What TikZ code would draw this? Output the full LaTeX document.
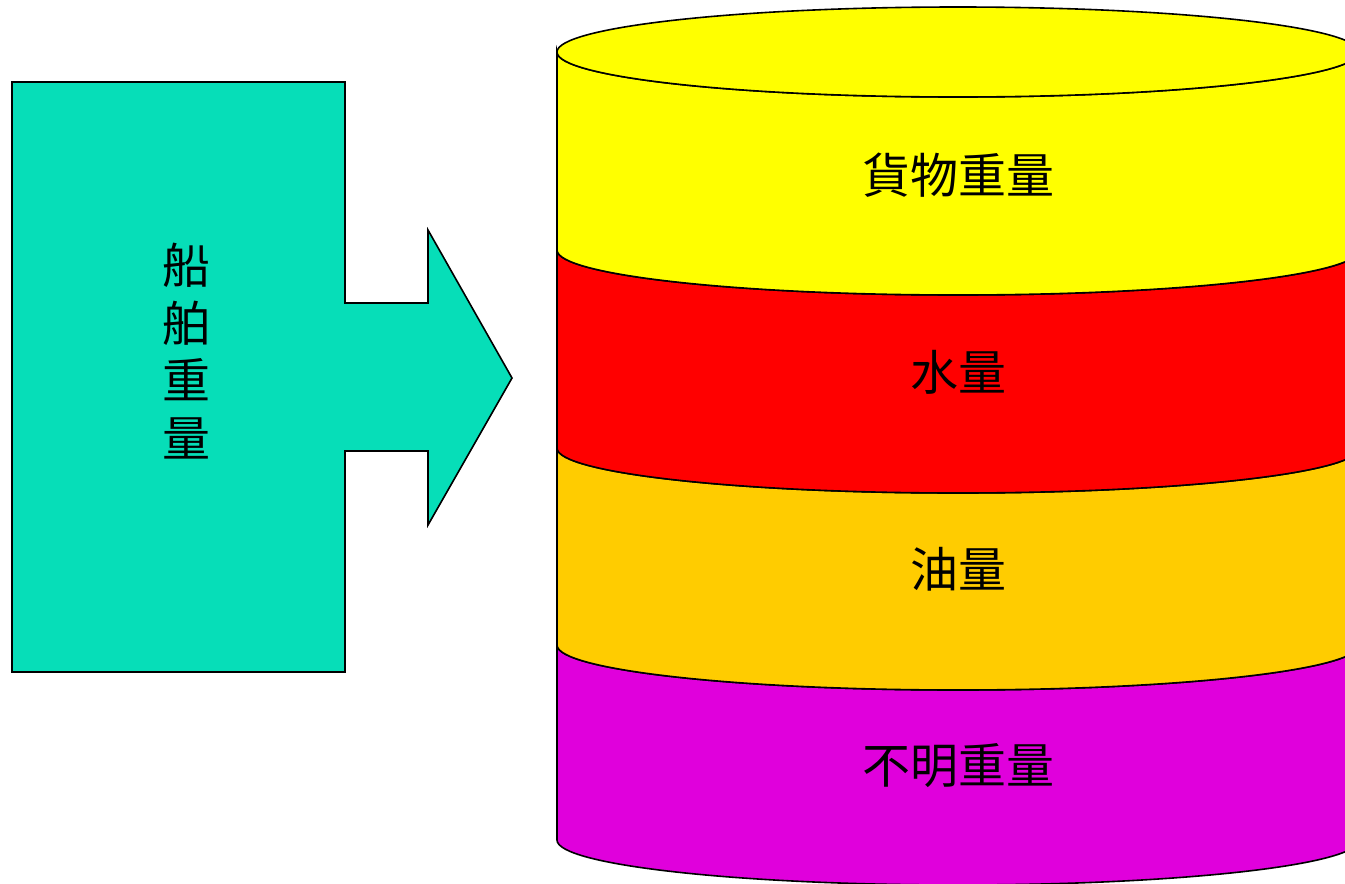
\documentclass[tikz,border=0pt]{standalone}
\usepackage{fontspec}
\newfontfamily\cjk{Noto Sans CJK TC}
\definecolor{shipteal}{RGB}{6,222,184}
\definecolor{cargoyellow}{RGB}{255,255,0}
\definecolor{waterred}{RGB}{255,0,0}
\definecolor{oilorange}{RGB}{255,204,0}
\definecolor{unkmagenta}{RGB}{224,0,220}
\tikzset{
  outline/.style={draw=black, line width=1.6pt, line join=miter},
  lbl/.style={font=\cjk\fontsize{48}{58}\selectfont, inner sep=0pt, align=center, text=black},
}
\begin{document}
\begin{tikzpicture}[x=1pt, y=-1pt]
\useasboundingbox (0,0) rectangle (1345,884);
\clip (0,0) rectangle (1345,884);
% ship weight block with arrow
\path[outline, fill=shipteal]
  (12,82) -- (345,82) -- (345,303) -- (428,303) -- (428,230) -- (512,378)
  -- (428,525) -- (428,451) -- (345,451) -- (345,672) -- (12,672) -- cycle;
\node[lbl, font=\cjk\fontsize{48}{57.7}\selectfont] (ship) at (186,351) {船\\舶\\重\\量};
% cylinder bands
\def\cx{958}
\def\rxx{401}
\def\ryy{45}
\path[outline, fill=unkmagenta]
  (557,645) -- (557,840) arc[start angle=180, end angle=0, x radius=\rxx, y radius=\ryy]
  -- (1359,645) arc[start angle=0, end angle=180, x radius=\rxx, y radius=\ryy] -- cycle;
\path[outline, fill=oilorange]
  (557,448) -- (557,645) arc[start angle=180, end angle=0, x radius=\rxx, y radius=\ryy]
  -- (1359,448) arc[start angle=0, end angle=180, x radius=\rxx, y radius=\ryy] -- cycle;
\path[outline, fill=waterred]
  (557,250) -- (557,448) arc[start angle=180, end angle=0, x radius=\rxx, y radius=\ryy]
  -- (1359,250) arc[start angle=0, end angle=180, x radius=\rxx, y radius=\ryy] -- cycle;
\path[outline, fill=cargoyellow]
  (557,52) -- (557,250) arc[start angle=180, end angle=0, x radius=\rxx, y radius=\ryy]
  -- (1359,52) arc[start angle=0, end angle=180, x radius=\rxx, y radius=\ryy] -- cycle;
\path[outline, fill=cargoyellow] (\cx,52) ellipse[x radius=\rxx, y radius=\ryy];
% labels
\node[lbl] (cargo) at (958,175) {貨物重量};
\node[lbl] (water) at (958,372) {水量};
\node[lbl] (oil) at (958,569) {油量};
\node[lbl] (unknown) at (958,766) {不明重量};
\end{tikzpicture}
\end{document}
